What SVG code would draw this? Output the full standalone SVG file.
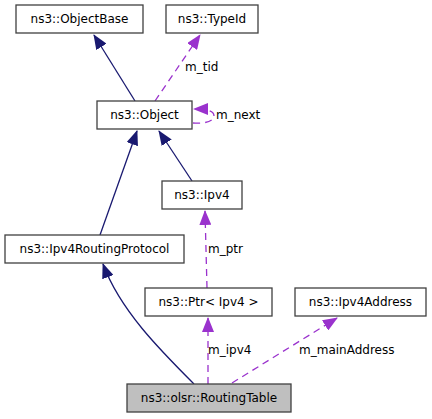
<svg xmlns="http://www.w3.org/2000/svg" width="432" height="419" viewBox="0 0 432 419">
<style>
.box{fill:#ffffff;stroke:#404040;stroke-width:1.3}
.cur{fill:#bfbfbf;stroke:#404040;stroke-width:1.3}
.t{font-family:"DejaVu Sans",sans-serif;font-size:12px;fill:#000;text-anchor:middle}
.l{font-family:"DejaVu Sans",sans-serif;font-size:12px;fill:#000}
.inh{fill:none;stroke:#191970;stroke-width:1.3;marker-end:url(#an)}
.use{fill:none;stroke:#9a32cd;stroke-width:1.3;stroke-dasharray:7,5;marker-end:url(#ap)}
</style>
<defs>
<marker id="an" markerUnits="userSpaceOnUse" markerWidth="15" markerHeight="12" viewBox="0 0 15 12" refX="14" refY="6" orient="auto">
<path d="M0,0 L15,6 L0,12 z" fill="#191970"/>
</marker>
<marker id="ap" markerUnits="userSpaceOnUse" markerWidth="15" markerHeight="12" viewBox="0 0 15 12" refX="14" refY="6" orient="auto">
<path d="M0,0 L15,6 L0,12 z" fill="#9a32cd"/>
</marker>
</defs>
<g id="edges">
<path class="inh" d="M135,101 L94,35"/>
<path class="use" d="M155,101 L200,35"/>
<text class="l" x="185" y="71">m_tid</text>
<path class="use" d="M193,123 C205,124 214,121 214,116 C214,111 207,109 194,109"/>
<text class="l" x="216" y="119">m_next</text>
<path class="inh" d="M192,181 L159,131"/>
<path class="inh" d="M100,235 L137,131"/>
<path class="use" d="M207,288 L205,211"/>
<text class="l" x="208" y="253">m_ptr</text>
<path class="inh" d="M194,384 C160,350 120,310 103,264"/>
<path class="use" d="M208,384 L208,318"/>
<text class="l" x="208" y="354">m_ipv4</text>
<path class="use" d="M232,383 L337,318"/>
<text class="l" x="299" y="354">m_mainAddress</text>
</g>
<g id="ObjectBase"><rect class="box" x="16" y="5" width="127" height="28"/><text class="t" x="79.5" y="23">ns3::ObjectBase</text></g>
<g id="TypeId"><rect class="box" x="166" y="5" width="92" height="28"/><text class="t" x="212" y="23">ns3::TypeId</text></g>
<g id="Object"><rect class="box" x="97" y="101" width="95" height="28"/><text class="t" x="144.5" y="119">ns3::Object</text></g>
<g id="Ipv4"><rect class="box" x="162" y="181" width="80" height="28"/><text class="t" x="202" y="199">ns3::Ipv4</text></g>
<g id="Ipv4RoutingProtocol"><rect class="box" x="5" y="235" width="179" height="28"/><text class="t" x="94.5" y="253">ns3::Ipv4RoutingProtocol</text></g>
<g id="PtrIpv4"><rect class="box" x="145" y="288" width="127" height="28"/><text class="t" x="208.5" y="306">ns3::Ptr&lt; Ipv4 &gt;</text></g>
<g id="Ipv4Address"><rect class="box" x="295" y="288" width="131" height="28"/><text class="t" x="360.5" y="306">ns3::Ipv4Address</text></g>
<g id="RoutingTable"><rect class="cur" x="127" y="384" width="164" height="28"/><text class="t" x="209" y="402">ns3::olsr::RoutingTable</text></g>
</svg>
